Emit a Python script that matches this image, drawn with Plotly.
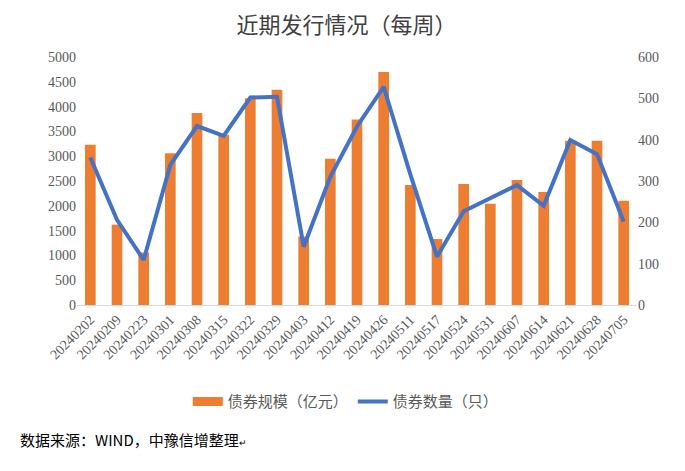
import plotly.graph_objects as go

dates = ["20240202", "20240209", "20240223", "20240301", "20240308", "20240315", "20240322",
         "20240329", "20240403", "20240412", "20240419", "20240426", "20240511", "20240517",
         "20240524", "20240531", "20240607", "20240614", "20240621", "20240628", "20240705"]
scale = [3230, 1620, 1060, 3060, 3870, 3430, 4170, 4340, 1380, 2950, 3740, 4700, 2420, 1330,
         2440, 2040, 2520, 2280, 3310, 3310, 2100]
count = [357, 206, 109, 339, 433, 409, 502, 504, 141, 310, 432, 528, 316, 117,
         227, 258, 290, 240, 399, 365, 202]

left_ticks = list(range(0, 5001, 500))
right_ticks = list(range(0, 601, 100))

tick_font = dict(family="Liberation Serif", size=14, color="#595959")

fig = go.Figure()
fig.add_trace(go.Bar(x=dates, y=scale, name="债券规模（亿元）", marker_color="#ED7D31",
                     marker_line_width=0, yaxis="y", showlegend=False))
# legend entry for bars drawn as a thick line swatch (like the reference's wide rectangle)
fig.add_trace(go.Scatter(x=[dates[0]], y=[None], name="债券规模（亿元）", mode="lines",
                         line=dict(color="#ED7D31", width=9), yaxis="y"))
fig.add_trace(go.Scatter(x=dates, y=count, name="债券数量（只）", mode="lines",
                         line=dict(color="#4472C4", width=4), yaxis="y2"))

# the page body adds an 8px offset, so the figure is sized/margined to compensate
fig.update_layout(
    width=677, height=463,
    margin=dict(l=69, r=48, t=49, b=166, autoexpand=False),
    paper_bgcolor="white", plot_bgcolor="white",
    bargap=0.6,
    title=dict(text="近期发行情况（每周）", x=0.5, xanchor="center", y=0.963, yanchor="middle",
               font=dict(family="Noto Sans CJK SC", size=22, color="#404040")),
    xaxis=dict(type="category", tickangle=-45, tickfont=tick_font, showgrid=False,
               showline=True, linecolor="#D9D9D9", linewidth=1, ticks="", automargin=False),
    yaxis=dict(range=[0, 5000], tickvals=left_ticks, tickfont=tick_font, showgrid=False,
               zeroline=False, showline=False, ticks="", automargin=False),
    yaxis2=dict(range=[0, 600], tickvals=right_ticks, tickfont=tick_font, overlaying="y",
                side="right", showgrid=False, zeroline=False, showline=False, ticks="",
                automargin=False),
    legend=dict(orientation="h", x=0.48, xanchor="center", y=-0.39, yanchor="middle",
                font=dict(family="Noto Sans CJK SC", size=15, color="#595959"),
                itemwidth=30, bgcolor="rgba(0,0,0,0)"),
    showlegend=True,
)

fig.add_annotation(text="数据来源：WIND，中豫信增整理<span style='font-size:9px'>↵</span>",
                   xref="paper", yref="paper", x=-0.1055, y=-0.544,
                   xanchor="left", yanchor="middle", showarrow=False,
                   font=dict(family="Noto Sans CJK SC", size=15, color="#000000"))

fig.write_html("out.html")
